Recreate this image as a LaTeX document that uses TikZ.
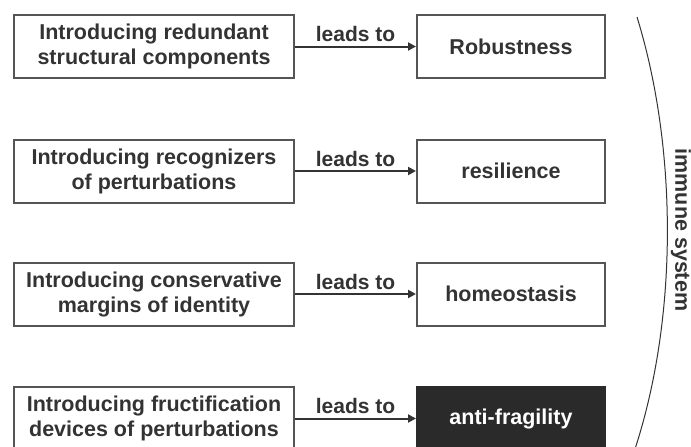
\documentclass[tikz,border=0pt]{standalone}
\usepackage{fontspec}
\setmainfont{Liberation Sans}
\usetikzlibrary{arrows.meta}
\definecolor{ink}{HTML}{333333}
\definecolor{frame}{HTML}{555555}
\definecolor{darkfill}{HTML}{2A2A2A}
\begin{document}
\begin{tikzpicture}[x=1pt,y=-1pt,
  causebox/.style={draw=frame,line width=2pt,minimum width=280pt,minimum height=63pt,inner sep=0pt,
    font=\bfseries\fontsize{21.5}{25}\selectfont,text=ink,align=center},
  effectbox/.style={draw=frame,line width=2pt,minimum width=188pt,minimum height=63pt,inner sep=0pt,
    font=\bfseries\fontsize{21.5}{25}\selectfont,text=ink,align=center},
  darkbox/.style={effectbox,fill=darkfill,draw=darkfill,text=white},
  leadsarrow/.style={draw=ink,line width=2pt,-{Triangle[length=8pt,width=8pt]}},
  leadslabel/.style={font=\bfseries\fontsize{21}{25}\selectfont,text=ink,above=0pt}
]
\useasboundingbox (0,0) rectangle (691,447);
\begin{scope}
\clip (0,0) rectangle (691,447);
\node[causebox] (c1) at (154,46.5) {Introducing redundant\\structural components};
\node[causebox] (c2) at (154,171) {Introducing recognizers\\of perturbations};
\node[causebox] (c3) at (154,294) {Introducing conservative\\margins of identity};
\node[causebox] (c4) at (154,418.5) {Introducing fructification\\devices of perturbations};
\node[effectbox] (e1) at (511,46.5) {Robustness};
\node[effectbox] (e2) at (511,171) {resilience};
\node[effectbox] (e3) at (511,294) {homeostasis};
\node[darkbox] (e4) at (511,418.5) {anti-fragility};
\foreach \i in {1,2,3,4}{
  \draw[leadsarrow] (c\i.east) -- node[leadslabel]{leads to} (e\i.west);
}
\coordinate (bt) at (637,17);
\coordinate (bb) at (634,452);
\draw[ink,line width=1pt] (bt) .. controls (678,150) and (678,320) .. (bb);
\node[font=\bfseries\fontsize{21.5}{25}\selectfont,text=ink,rotate=-90] (imm) at (681,230) {immune system};
\end{scope}
\end{tikzpicture}
\end{document}
